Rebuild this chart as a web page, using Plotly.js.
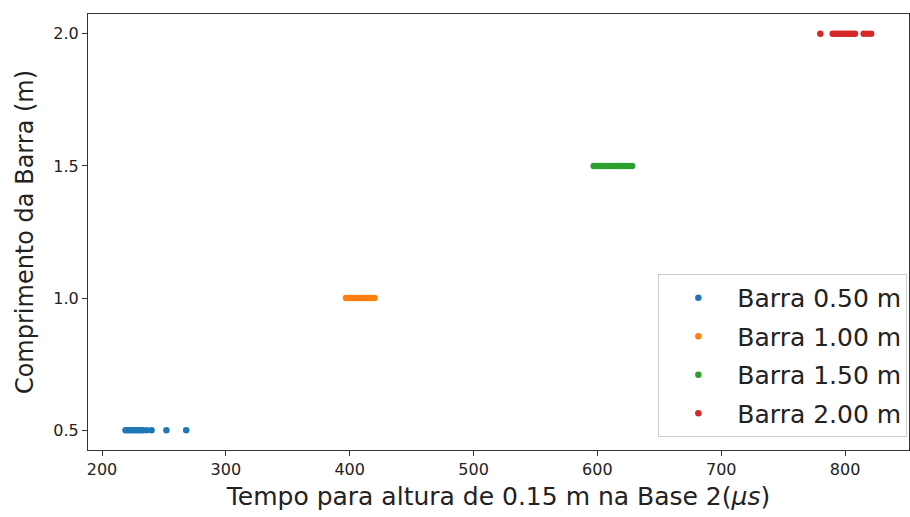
<!DOCTYPE html>
<html>
<head>
<meta charset="utf-8">
<script src="https://cdn.plot.ly/plotly-3.0.1.min.js"></script>
<style>html,body{margin:0;padding:0;background:#fff;}#chart{width:910px;height:517px;}</style>
</head>
<body>
<div id="chart"></div>
<script>
const seriesNames = ["Barra 0.50 m", "Barra 1.00 m", "Barra 1.50 m", "Barra 2.00 m"];
const seriesColors = ["#1f77b4", "#ff7f0e", "#2ca02c", "#d62728"];
const lengths = [0.5, 1.0, 1.5, 2.0];
const times050 = [219, 221, 223, 225, 227, 229, 231, 233, 236, 240, 252, 268];
const times100 = [397, 399, 401, 403, 405, 407, 409, 411, 413, 415, 417, 420];
const times150 = [597, 599, 601, 603, 605, 607, 610, 613, 615, 617, 619, 621, 623, 625, 628];
const times200 = [780, 790, 792, 794, 796, 798, 800, 802, 804, 806, 808, 815, 818, 821];
const xTicks = [200, 300, 400, 500, 600, 700, 800];
const yTicks = [0.5, 1.0, 1.5, 2.0];
const yTickText = ["0.5", "1.0", "1.5", "2.0"];

const allTimes = [times050, times100, times150, times200];
const traces = allTimes.map((t, i) => ({
  type: "scatter",
  mode: "markers",
  x: t,
  y: t.map(() => lengths[i]),
  name: seriesNames[i],
  legendgroup: "g" + i,
  marker: {color: seriesColors[i], size: 6.5, line: {width: 0}},
  hoverinfo: "x+y"
}));

const font = "DejaVu Sans, sans-serif";
const layout = {
  width: 910, height: 517,
  margin: {l: 88, r: 1, t: 14, b: 67},
  paper_bgcolor: "#fff", plot_bgcolor: "#fff",
  font: {family: font, color: "#222"},
  showlegend: true,
  legend: {
    x: 0.998, xanchor: "right", y: 0.03, yanchor: "bottom",
    bgcolor: "rgba(255,255,255,0.9)", bordercolor: "#cccccc", borderwidth: 1,
    font: {family: font, size: 25, color: "#222"},
    tracegroupgap: 3, itemwidth: 68
  },
  xaxis: {
    range: [188.7, 851.6], tickvals: xTicks, ticktext: xTicks.map(String),
    showgrid: false, zeroline: false, showline: true, mirror: true,
    linecolor: "#333", linewidth: 1, ticks: "outside", ticklen: 5, tickcolor: "#333",
    tickfont: {family: font, size: 16, color: "#222"},
    title: {text: "Tempo para altura de 0.15 m na Base 2(<i>μs</i>)", font: {family: font, size: 25, color: "#222"}, standoff: 9}
  },
  yaxis: {
    range: [0.425, 2.075], tickvals: yTicks, ticktext: yTickText,
    showgrid: false, zeroline: false, showline: true, mirror: true,
    linecolor: "#333", linewidth: 1, ticks: "outside", ticklen: 5, tickcolor: "#333",
    tickfont: {family: font, size: 16, color: "#222"},
    title: {text: "Comprimento da Barra (m)", font: {family: font, size: 24, color: "#222"}, standoff: 12}
  }
};
Plotly.newPlot("chart", traces, layout, {displayModeBar: false, staticPlot: true});
</script>
</body>
</html>
